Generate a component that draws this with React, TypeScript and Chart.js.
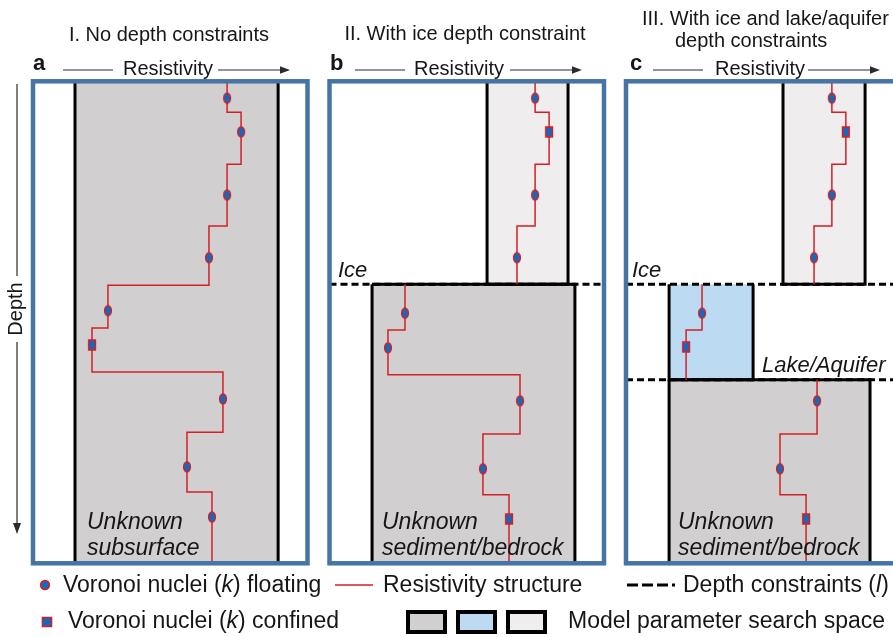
import React, { useEffect, useRef } from 'react';
import { Chart, registerables } from 'chart.js';

Chart.register(...registerables);

const FONT = '"Liberation Sans", Arial, Helvetica, sans-serif';
const INK = '#161616';
const ARROW = '#2b2b2b';
const FRAME = '#4674a5';
const RED = '#d41f26';
const NUCLEUS_BLUE = '#0a6cc2';
const FILL_GRAY = '#d1cfcf';
const FILL_LIGHT = '#efeded';
const FILL_LAKE = '#bddaf3';

// Depth runs 0 (surface) to 100 (base of section); resistivity 0–100 in relative units.
const SECTION_TOP = 0;
const SECTION_BOTTOM = 100;
const ICE_DEPTH = 42.1;
const LAKE_DEPTH = 61.9;

// a — single unconstrained column
const aRes = [70.7, 75.8, 70.7, 64.1, 27.3, 21.5, 69.2, 56.1, 65.2];
const aInterfaces = [6.4, 17.2, 30.0, 42.3, 51.2, 60.3, 72.8, 85.2];
const aNuclei = [3.5, 10.5, 23.6, 36.6, 47.6, 54.7, 65.9, 80.0, 90.4];
const aConfined = [false, false, false, false, false, true, false, false, false];
const aSpace = [15.3, 89.3];

// b — ice layer above sediment/bedrock
const bIceRes = [74.9, 80.0, 74.9, 68.3];
const bIceInterfaces = [6.4, 17.2, 30.0];
const bIceNuclei = [3.5, 10.5, 23.6, 36.6];
const bIceConfined = [false, true, false, false];
const bIceSpace = [57.4, 86.9];
const bBedRes = [27.5, 21.3, 69.4, 55.9, 65.4];
const bBedInterfaces = [51.6, 60.9, 73.2, 85.8];
const bBedNuclei = [48.1, 55.3, 66.3, 80.4, 90.8];
const bBedConfined = [false, false, false, false, true];
const bBedSpace = [15.5, 89.4];

// c — ice, lake/aquifer, sediment/bedrock
const cIceRes = [75.0, 80.1, 75.0, 68.5];
const cIceInterfaces = [6.4, 17.2, 30.0];
const cIceNuclei = [3.5, 10.5, 23.6, 36.6];
const cIceConfined = [false, true, false, false];
const cIceSpace = [57.2, 87.1];
const cLakeRes = [27.7, 21.9];
const cLakeInterfaces = [51.6];
const cLakeNuclei = [48.1, 55.1];
const cLakeConfined = [false, true];
const cLakeSpace = [15.7, 46.3];
const cBedRes = [69.6, 56.1, 65.6];
const cBedInterfaces = [73.2, 85.8];
const cBedNuclei = [66.3, 80.4, 90.8];
const cBedConfined = [false, false, true];
const cBedSpace = [15.7, 88.9];

type Unit = {
  res: number[];
  interfaces: number[];
  nuclei: number[];
  confined: boolean[];
  space: number[];
  top: number;
  bottom: number;
  fill: string;
  topEdge: boolean;
};

const panelAUnits: Unit[] = [
  { res: aRes, interfaces: aInterfaces, nuclei: aNuclei, confined: aConfined, space: aSpace, top: SECTION_TOP, bottom: SECTION_BOTTOM, fill: FILL_GRAY, topEdge: true },
];
const panelBUnits: Unit[] = [
  { res: bIceRes, interfaces: bIceInterfaces, nuclei: bIceNuclei, confined: bIceConfined, space: bIceSpace, top: SECTION_TOP, bottom: ICE_DEPTH, fill: FILL_LIGHT, topEdge: true },
  { res: bBedRes, interfaces: bBedInterfaces, nuclei: bBedNuclei, confined: bBedConfined, space: bBedSpace, top: ICE_DEPTH, bottom: SECTION_BOTTOM, fill: FILL_GRAY, topEdge: true },
];
const panelCUnits: Unit[] = [
  { res: cIceRes, interfaces: cIceInterfaces, nuclei: cIceNuclei, confined: cIceConfined, space: cIceSpace, top: SECTION_TOP, bottom: ICE_DEPTH, fill: FILL_LIGHT, topEdge: true },
  { res: cLakeRes, interfaces: cLakeInterfaces, nuclei: cLakeNuclei, confined: cLakeConfined, space: cLakeSpace, top: ICE_DEPTH, bottom: LAKE_DEPTH, fill: FILL_LAKE, topEdge: false },
  { res: cBedRes, interfaces: cBedInterfaces, nuclei: cBedNuclei, confined: cBedConfined, space: cBedSpace, top: LAKE_DEPTH, bottom: SECTION_BOTTOM, fill: FILL_GRAY, topEdge: true },
];

// ---------- marker glyphs ----------
let ellipseGlyph: HTMLCanvasElement | null = null;
let rectGlyph: HTMLCanvasElement | null = null;

function makeGlyph(shape: 'ellipse' | 'rect'): HTMLCanvasElement {
  const c = document.createElement('canvas');
  c.width = 12;
  c.height = 14;
  const g = c.getContext('2d')!;
  g.fillStyle = NUCLEUS_BLUE;
  g.strokeStyle = RED;
  g.lineWidth = 1.6;
  g.beginPath();
  if (shape === 'ellipse') g.ellipse(6, 7, 3.3, 5.0, 0, 0, Math.PI * 2);
  else g.rect(6 - 3.3, 7 - 4.9, 6.6, 9.8);
  g.fill();
  g.stroke();
  return c;
}

function glyphs() {
  if (!ellipseGlyph) ellipseGlyph = makeGlyph('ellipse');
  if (!rectGlyph) rectGlyph = makeGlyph('rect');
  return { ellipse: ellipseGlyph, rect: rectGlyph };
}

// ---------- dataset builders ----------
function stepVertices(u: Unit) {
  const bounds = [u.top, ...u.interfaces, u.bottom];
  const pts: { x: number; y: number }[] = [];
  u.res.forEach((r, i) => {
    pts.push({ x: r, y: bounds[i] });
    pts.push({ x: r, y: bounds[i + 1] });
  });
  return pts;
}

const NONE = 'rgba(0,0,0,0)';

function buildDatasets(units: Unit[], constraints: number[]) {
  const g = glyphs();
  const ds: any[] = [];
  // search-space fills: band between top edge and bottom edge
  units.forEach((u) => {
    const [r0, r1] = u.space;
    ds.push({
      data: [{ x: r0, y: u.top }, { x: r1, y: u.top }],
      showLine: true, fill: '+1', backgroundColor: u.fill,
      borderColor: NONE, borderWidth: 0, pointRadius: 0, order: 10,
    });
    ds.push({
      data: [{ x: r0, y: u.bottom }, { x: r1, y: u.bottom }],
      showLine: true, fill: false, backgroundColor: NONE,
      borderColor: NONE, borderWidth: 0, pointRadius: 0, order: 10,
    });
  });
  // search-space outlines
  units.forEach((u) => {
    const [r0, r1] = u.space;
    const data = u.topEdge
      ? [{ x: r0, y: u.top }, { x: r1, y: u.top }, { x: r1, y: u.bottom }, { x: r0, y: u.bottom }, { x: r0, y: u.top }]
      : [{ x: r0, y: u.top }, { x: r0, y: u.bottom }, { x: r1, y: u.bottom }, { x: r1, y: u.top }];
    ds.push({
      data, showLine: true, fill: false, borderColor: '#000', borderWidth: 3,
      borderJoinStyle: 'miter', pointRadius: 0, order: 8,
    });
  });
  // depth constraints
  constraints.forEach((d) => {
    ds.push({
      data: [{ x: 0, y: d }, { x: 100, y: d }],
      showLine: true, fill: false, borderColor: '#000', borderWidth: 3,
      borderDash: [7, 4], borderCapStyle: 'butt', pointRadius: 0, order: 7,
    });
  });
  // resistivity structure and Voronoi nuclei
  units.forEach((u) => {
    ds.push({
      data: stepVertices(u), showLine: true, fill: false, borderColor: RED,
      borderWidth: 1.5, borderJoinStyle: 'miter', pointRadius: 0, order: 2,
    });
    const floating = u.res.map((r, i) => ({ x: r, y: u.nuclei[i] })).filter((_, i) => !u.confined[i]);
    const confined = u.res.map((r, i) => ({ x: r, y: u.nuclei[i] })).filter((_, i) => u.confined[i]);
    ds.push({ data: floating, showLine: false, pointStyle: g.ellipse, pointRadius: 5, order: 1 });
    ds.push({ data: confined, showLine: false, pointStyle: g.rect, pointRadius: 5, order: 1 });
  });
  return ds;
}

// ---------- decorations ----------
type Run = [string, boolean];
type TextItem = { runs: Run[]; x: number; y: number; size: number; bold?: boolean; align?: 'left' | 'center' };

type Decor = {
  texts: TextItem[];
  arrow: { l0: number; l1: number; tx: number; r0: number; tip: number };
  depthArrow?: boolean;
  legend?: boolean;
};

function fontOf(size: number, italic: boolean, bold?: boolean) {
  return `${italic ? 'italic ' : ''}${bold ? 'bold ' : ''}${size}px ${FONT}`;
}

function drawText(ctx: CanvasRenderingContext2D, t: TextItem) {
  ctx.textAlign = 'left';
  ctx.textBaseline = 'alphabetic';
  ctx.fillStyle = INK;
  let total = 0;
  t.runs.forEach(([s, it]) => {
    ctx.font = fontOf(t.size, it, t.bold);
    total += ctx.measureText(s).width;
  });
  let x = t.align === 'center' ? t.x - total / 2 : t.x;
  t.runs.forEach(([s, it]) => {
    ctx.font = fontOf(t.size, it, t.bold);
    ctx.fillText(s, x, t.y);
    x += ctx.measureText(s).width;
  });
}

function drawResistivityArrow(ctx: CanvasRenderingContext2D, a: Decor['arrow']) {
  const y = 70;
  ctx.strokeStyle = ARROW;
  ctx.fillStyle = ARROW;
  ctx.lineWidth = 1.2;
  ctx.beginPath();
  ctx.moveTo(a.l0, y);
  ctx.lineTo(a.l1, y);
  ctx.moveTo(a.r0, y);
  ctx.lineTo(a.tip - 8, y);
  ctx.stroke();
  ctx.beginPath();
  ctx.moveTo(a.tip, y);
  ctx.lineTo(a.tip - 10, y - 3.8);
  ctx.lineTo(a.tip - 10, y + 3.8);
  ctx.closePath();
  ctx.fill();
  ctx.font = fontOf(20, false);
  ctx.fillStyle = INK;
  ctx.textAlign = 'left';
  ctx.textBaseline = 'alphabetic';
  ctx.fillText('Resistivity', a.tx, 75);
}

function drawDepthArrow(ctx: CanvasRenderingContext2D) {
  const x = 17;
  ctx.strokeStyle = ARROW;
  ctx.fillStyle = ARROW;
  ctx.lineWidth = 1.2;
  ctx.beginPath();
  ctx.moveTo(x, 84);
  ctx.lineTo(x, 276);
  ctx.moveTo(x, 342);
  ctx.lineTo(x, 525);
  ctx.stroke();
  ctx.beginPath();
  ctx.moveTo(x, 534);
  ctx.lineTo(x - 4, 523);
  ctx.lineTo(x + 4, 523);
  ctx.closePath();
  ctx.fill();
  ctx.save();
  ctx.translate(22, 309);
  ctx.rotate(-Math.PI / 2);
  ctx.font = fontOf(20, false);
  ctx.fillStyle = INK;
  ctx.textAlign = 'center';
  ctx.textBaseline = 'alphabetic';
  ctx.fillText('Depth', 0, 0);
  ctx.restore();
}

function drawLegend(ctx: CanvasRenderingContext2D) {
  const size = 23;
  const row1 = 585;
  const row2 = 622;
  // floating nucleus
  ctx.beginPath();
  ctx.arc(45, row1, 4.4, 0, Math.PI * 2);
  ctx.fillStyle = NUCLEUS_BLUE;
  ctx.fill();
  ctx.strokeStyle = RED;
  ctx.lineWidth = 1.6;
  ctx.stroke();
  drawText(ctx, { runs: [['Voronoi nuclei (', false], ['k', true], [') floating', false]], x: 63, y: 592, size });
  // resistivity structure
  ctx.beginPath();
  ctx.moveTo(335, row1);
  ctx.lineTo(373, row1);
  ctx.strokeStyle = RED;
  ctx.lineWidth = 1.5;
  ctx.stroke();
  drawText(ctx, { runs: [['Resistivity structure', false]], x: 383, y: 592, size });
  // depth constraints
  ctx.save();
  ctx.setLineDash([11, 4]);
  ctx.beginPath();
  ctx.moveTo(627, row1);
  ctx.lineTo(675, row1);
  ctx.strokeStyle = '#000';
  ctx.lineWidth = 3;
  ctx.stroke();
  ctx.restore();
  drawText(ctx, { runs: [['Depth constraints (', false], ['l', true], [')', false]], x: 683, y: 592, size });
  // confined nucleus
  ctx.beginPath();
  ctx.rect(42.5, row2 - 4.5, 9, 9);
  ctx.fillStyle = NUCLEUS_BLUE;
  ctx.fill();
  ctx.strokeStyle = RED;
  ctx.lineWidth = 1.6;
  ctx.stroke();
  drawText(ctx, { runs: [['Voronoi nuclei (', false], ['k', true], [') confined', false]], x: 68, y: 628, size });
  // search-space swatches
  const swatches: [number, string][] = [[408, FILL_GRAY], [458, FILL_LAKE], [508, FILL_LIGHT]];
  swatches.forEach(([x, c]) => {
    ctx.fillStyle = c;
    ctx.fillRect(x, 612, 37, 20);
    ctx.strokeStyle = '#000';
    ctx.lineWidth = 4;
    ctx.strokeRect(x, 612, 37, 20);
  });
  drawText(ctx, { runs: [['Model parameter search space', false]], x: 568, y: 628, size });
}

function decorPlugin(decor: Decor) {
  return {
    id: 'panelDecor',
    afterDatasetsDraw(chart: any) {
      const { ctx, chartArea } = chart;
      ctx.save();
      ctx.strokeStyle = FRAME;
      ctx.lineWidth = 4.5;
      ctx.strokeRect(chartArea.left, chartArea.top, chartArea.right - chartArea.left, chartArea.bottom - chartArea.top);
      ctx.restore();
    },
    afterDraw(chart: any) {
      const ctx: CanvasRenderingContext2D = chart.ctx;
      ctx.save();
      decor.texts.forEach((t) => drawText(ctx, t));
      drawResistivityArrow(ctx, decor.arrow);
      if (decor.depthArrow) drawDepthArrow(ctx);
      if (decor.legend) drawLegend(ctx);
      ctx.restore();
    },
  };
}

// ---------- panels ----------
const CANVAS_W = 910;
const CANVAS_H = 637;
const FRAME_TOP = 81.3;
const FRAME_BOTTOM = 563.3;

type PanelSpec = { left: number; right: number; units: Unit[]; constraints: number[]; decor: Decor };

const italicLabel = (s: string, x: number, y: number, size = 23): TextItem => ({ runs: [[s, true]], x, y, size });

const PANELS: PanelSpec[] = [
  {
    left: 33, right: 307.5, units: panelAUnits, constraints: [],
    decor: {
      texts: [
        { runs: [['I. No depth constraints', false]], x: 169, y: 41, size: 20, align: 'center' },
        { runs: [['a', false]], x: 33, y: 70, size: 22, bold: true },
        italicLabel('Unknown', 87, 529),
        italicLabel('subsurface', 87, 555),
      ],
      arrow: { l0: 63, l1: 113, tx: 123, r0: 218, tip: 290 },
      depthArrow: true,
      legend: true,
    },
  },
  {
    left: 329.5, right: 604, units: panelBUnits, constraints: [ICE_DEPTH],
    decor: {
      texts: [
        { runs: [['II. With ice depth constraint', false]], x: 465, y: 39.5, size: 20, align: 'center' },
        { runs: [['b', false]], x: 330, y: 70, size: 22, bold: true },
        italicLabel('Ice', 338, 277, 22),
        italicLabel('Unknown', 382, 529),
        italicLabel('sediment/bedrock', 382, 555),
      ],
      arrow: { l0: 355, l1: 405, tx: 414, r0: 510, tip: 582 },
    },
  },
  {
    left: 626, right: 900.5, units: panelCUnits, constraints: [ICE_DEPTH, LAKE_DEPTH],
    decor: {
      texts: [
        { runs: [['III. With ice and lake/aquifer', false]], x: 642, y: 25, size: 20 },
        { runs: [['depth constraints', false]], x: 675, y: 46.5, size: 20 },
        { runs: [['c', false]], x: 630, y: 69.5, size: 22, bold: true },
        italicLabel('Ice', 632, 277, 22),
        italicLabel('Lake/Aquifer', 762, 372, 22),
        italicLabel('Unknown', 678, 529),
        italicLabel('sediment/bedrock', 678, 555),
      ],
      arrow: { l0: 653, l1: 703, tx: 715, r0: 808, tip: 880 },
    },
  },
];

function Panel({ spec }: { spec: PanelSpec }) {
  const ref = useRef<HTMLCanvasElement | null>(null);
  useEffect(() => {
    if (!ref.current) return;
    const chart = new Chart(ref.current, {
      type: 'scatter',
      data: { datasets: buildDatasets(spec.units, spec.constraints) },
      options: {
        animation: false,
        responsive: false,
        devicePixelRatio: 1,
        events: [],
        layout: {
          padding: {
            left: spec.left,
            right: CANVAS_W - spec.right,
            top: FRAME_TOP,
            bottom: CANVAS_H - FRAME_BOTTOM,
          },
        },
        scales: {
          x: { type: 'linear', min: 0, max: 100, display: false },
          y: { type: 'linear', min: 0, max: 100, reverse: true, display: false },
        },
        plugins: { legend: { display: false }, tooltip: { enabled: false }, title: { display: false } },
      } as any,
      plugins: [decorPlugin(spec.decor)],
    });
    return () => chart.destroy();
  }, [spec]);
  return (
    <canvas
      ref={ref}
      width={CANVAS_W}
      height={CANVAS_H}
      style={{ position: 'absolute', left: 0, top: 0, width: CANVAS_W, height: CANVAS_H }}
    />
  );
}

export default function App() {
  return (
    <div
      style={{
        position: 'fixed', left: 0, top: 0, width: 893, height: 637,
        overflow: 'hidden', background: '#fff',
      }}
    >
      {PANELS.map((p, i) => (
        <Panel key={i} spec={p} />
      ))}
    </div>
  );
}
